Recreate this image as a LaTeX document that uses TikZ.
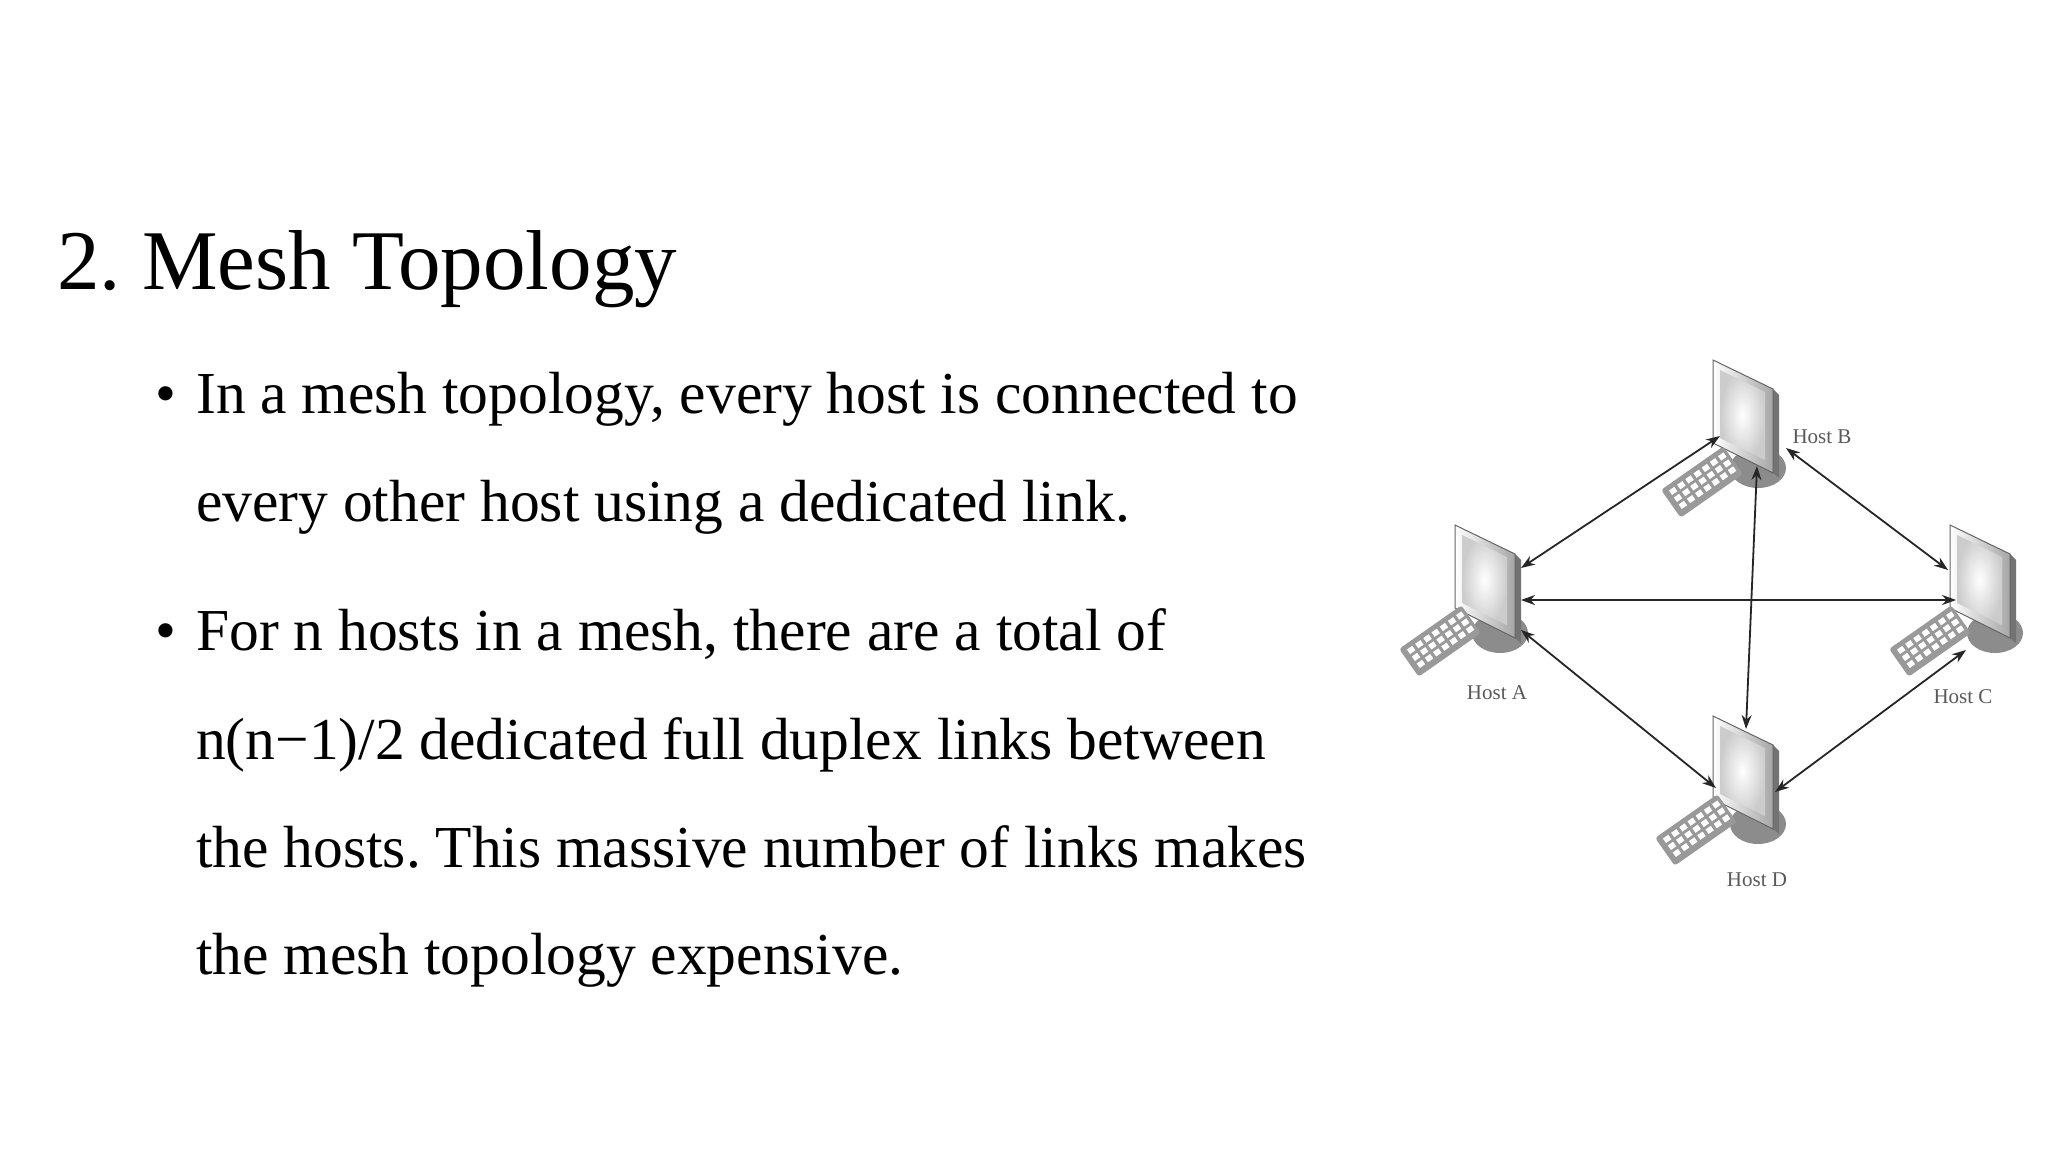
\documentclass[tikz,border=0pt]{standalone}
\usepackage{fontspec}
\setmainfont{Liberation Serif}
\usetikzlibrary{arrows.meta}
\frenchspacing
\tikzset{
  link/.style={{Stealth[length=14pt,width=10pt]}-{Stealth[length=14pt,width=10pt]}, line width=1.8pt, black!85},
  body/.style={font=\fontsize{59.5}{60}\selectfont, anchor=base west, inner sep=0pt},
  hostlbl/.style={font=\fontsize{21}{21}\selectfont, text=black!65, inner sep=0pt},
  pics/monitor/.style={code={
    \fill[black!45] (45,108) ellipse (28 and 20);
    \fill[black!55] (60,29) -- (66,35) -- (66,118) -- (60,113) -- cycle;
    \shade[left color=white, right color=black!35, draw=black!60, line width=1pt] (0,0) -- (60,29) -- (60,113) -- (0,83) -- cycle;
    \shade[inner color=white, outer color=black!20] (7,10) -- (52,32) -- (52,100) -- (7,78) -- cycle;
  }},
  pics/keyboard/.style={code={
    \begin{scope}[rotate=35]
      \fill[black!40, rounded corners=3pt] (-38,-17) rectangle (38,17);
      \foreach \i in {0,...,6}{\foreach \j in {0,...,2}{
        \fill[white] (-32+\i*10,-12+\j*8.5) rectangle ++(6.5,5.5);}}
    \end{scope}
  }}
}
\begin{document}
\begin{tikzpicture}[x=1pt,y=-1pt]
\useasboundingbox (0,0) rectangle (2048,1152);
\fill[white] (0,0) rectangle (2048,1152);
\node[anchor=base west, inner sep=0pt, font=\fontsize{85}{85}\selectfont] (title) at (57,289) {2. Mesh Topology};
\node[body] (d1) at (155,413) {•};
\node[body] (l1) at (196,413) {In a mesh topology, every host is connected to};
\node[body] (l2) at (196,521) {every other host using a dedicated link.};
\node[body] (d2) at (155,650) {•};
\node[body] (l3) at (196,650) {For n hosts in a mesh, there are a total of};
\node[body] (l4) at (196,759) {n(n−1)/2 dedicated full duplex links between};
\node[body] (l5) at (196,867) {the hosts. This massive number of links makes};
\node[body] (l6) at (196,974) {the mesh topology expensive.};

% hosts
\pic at (1713,360) {monitor};
\pic at (1455,525) {monitor};
\pic at (1950,525) {monitor};
\pic at (1713,716) {monitor};
\pic at (1702,482) {keyboard};
\pic at (1440,641) {keyboard};
\pic at (1930,641) {keyboard};
\pic at (1696,830) {keyboard};
\node[hostlbl] (hb) at (1822,437) {Host B};
\node[hostlbl] (ha) at (1497,693) {Host A};
\node[hostlbl] (hc) at (1963,697) {Host C};
\node[hostlbl] (hd) at (1757,880) {Host D};

\coordinate (AB) at (1521,568); \coordinate (BA) at (1720,436);
\coordinate (BC) at (1786,448); \coordinate (CB) at (1948,570);
\coordinate (AC) at (1521,600); \coordinate (CA) at (1956,600);
\coordinate (BD) at (1757,466); \coordinate (DB) at (1746,729);
\coordinate (AD) at (1521,630); \coordinate (DA) at (1716,788);
\coordinate (CD) at (1966,650); \coordinate (DC) at (1775,792);
\draw[link] (AB) -- (BA);
\draw[link] (BC) -- (CB);
\draw[link] (AC) -- (CA);
\draw[link] (BD) -- (DB);
\draw[link] (AD) -- (DA);
\draw[link] (CD) -- (DC);
\end{tikzpicture}
\end{document}
